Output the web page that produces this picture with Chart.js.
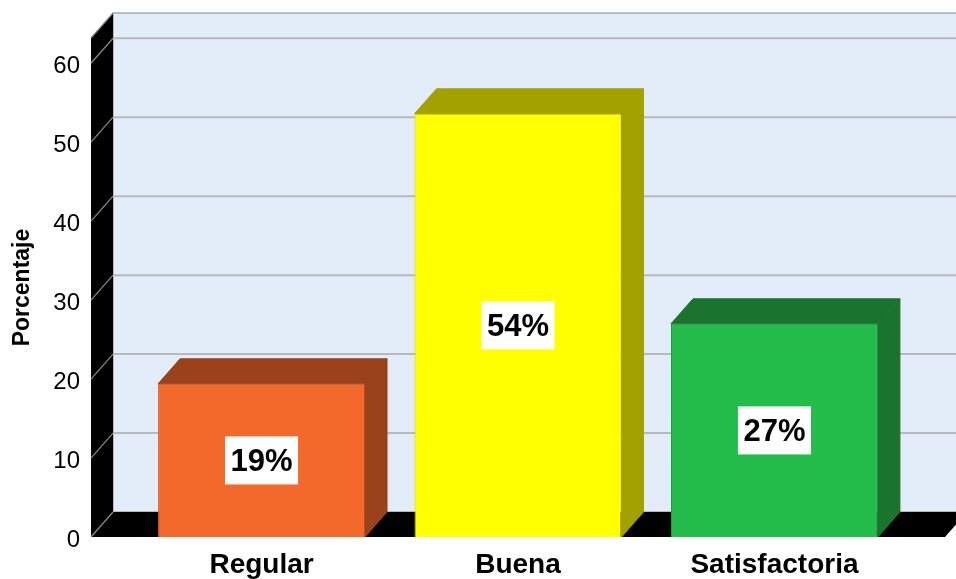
<!DOCTYPE html>
<html>
<head>
<meta charset="utf-8">
<script src="https://cdn.jsdelivr.net/npm/chart.js@4.4.1/dist/chart.umd.min.js"></script>
<style>
  html, body { margin: 0; padding: 0; background: #fff; }
  #wrap { width: 956px; height: 579px; }
</style>
</head>
<body>
<div id="wrap"><canvas id="grafico" width="956" height="579"></canvas></div>
<script>
// datos
const categorias = ["Regular", "Buena", "Satisfactoria"];
const porcentajes = [19.4, 53.6, 27.0];
const etiquetas = ["19%", "54%", "27%"];
const marcasY = [0, 10, 20, 30, 40, 50, 60];

const colorFrente = ["#f3692b", "#ffff00", "#24bc4b"];
const colorBorde = ["#d85d25", "#d9d900", "#1f9e41"];
const colorLado = ["#99421b", "#a3a100", "#1a742e"];

const FUENTE = "Arial, 'Liberation Sans', sans-serif";
const prof = { dx: 22, dy: 25 }; // profundidad 3D

const fondo3d = {
  id: "fondo3d",
  beforeDatasetsDraw(chart) {
    const { ctx, chartArea: a, scales } = chart;
    const y = scales.y;
    const { dx, dy } = prof;
    ctx.save();

    // pared del fondo
    ctx.fillStyle = "#e2edf9";
    ctx.fillRect(a.left + dx, a.top - dy, a.right - a.left, a.bottom - a.top);
    ctx.strokeStyle = "#a9a9a9";
    ctx.lineWidth = 1.5;
    ctx.beginPath();
    ctx.moveTo(a.left + dx, a.bottom - dy);
    ctx.lineTo(a.left + dx, a.top - dy);
    ctx.lineTo(a.right + dx, a.top - dy);
    ctx.stroke();

    // lineas de cuadricula en el fondo
    ctx.strokeStyle = "#b9b9b9";
    ctx.lineWidth = 2;
    marcasY.forEach(v => {
      const py = y.getPixelForValue(v) - dy;
      ctx.beginPath();
      ctx.moveTo(a.left + dx, py);
      ctx.lineTo(a.right + dx, py);
      ctx.stroke();
    });

    // pared izquierda
    ctx.fillStyle = "#000";
    ctx.beginPath();
    ctx.moveTo(a.left, a.top);
    ctx.lineTo(a.left + dx, a.top - dy);
    ctx.lineTo(a.left + dx, a.bottom - dy);
    ctx.lineTo(a.left, a.bottom);
    ctx.closePath();
    ctx.fill();

    // piso
    ctx.beginPath();
    ctx.moveTo(a.left, a.bottom);
    ctx.lineTo(a.left + dx, a.bottom - dy);
    ctx.lineTo(a.right + dx, a.bottom - dy);
    ctx.lineTo(a.right, a.bottom);
    ctx.closePath();
    ctx.fill();

    // diagonales en la pared izquierda
    ctx.strokeStyle = "#8a8a8a";
    ctx.lineWidth = 1.2;
    marcasY.concat([y.max]).forEach(v => {
      const py = y.getPixelForValue(v);
      ctx.beginPath();
      ctx.moveTo(a.left, py);
      ctx.lineTo(a.left + dx, py - dy);
      ctx.stroke();
    });
    ctx.restore();
  },
  afterDatasetsDraw(chart) {
    const { ctx } = chart;
    const { dx, dy } = prof;
    const meta = chart.getDatasetMeta(0);
    ctx.save();
    meta.data.forEach((bar, i) => {
      const p = bar.getProps(["x", "y", "base", "width"], true);
      const L = p.x - p.width / 2, R = p.x + p.width / 2;
      ctx.fillStyle = colorLado[i];
      ctx.strokeStyle = colorLado[i];
      ctx.lineWidth = 1;
      // cara superior
      ctx.beginPath();
      ctx.moveTo(L, p.y);
      ctx.lineTo(L + dx, p.y - dy);
      ctx.lineTo(R + dx, p.y - dy);
      ctx.lineTo(R, p.y);
      ctx.closePath();
      ctx.fill();
      ctx.stroke();
      // cara lateral
      ctx.beginPath();
      ctx.moveTo(R, p.y);
      ctx.lineTo(R + dx, p.y - dy);
      ctx.lineTo(R + dx, p.base - dy);
      ctx.lineTo(R, p.base);
      ctx.closePath();
      ctx.fill();
      ctx.stroke();

      // etiqueta
      ctx.font = "bold 31px " + FUENTE;
      const txt = etiquetas[i];
      const w = ctx.measureText(txt).width + 11;
      const h = 48;
      const cy = (p.y + p.base) / 2;
      ctx.fillStyle = "#fff";
      ctx.fillRect(p.x - w / 2, cy - h / 2, w, h);
      ctx.fillStyle = "#000";
      ctx.textAlign = "center";
      ctx.textBaseline = "middle";
      ctx.fillText(txt, p.x, cy + 2);
    });
    ctx.restore();
  }
};

new Chart(document.getElementById("grafico"), {
  type: "bar",
  data: {
    datasets: [{
      data: categorias.map((c, i) => ({ x: i, y: porcentajes[i] })),
      backgroundColor: colorFrente,
      borderColor: colorBorde,
      borderWidth: 1,
      categoryPercentage: 1,
      barPercentage: 0.807
    }]
  },
  options: {
    responsive: false,
    animation: false,
    devicePixelRatio: 1,
    layout: { padding: { top: 38, right: 11, left: 0, bottom: 0 } },
    plugins: { legend: { display: false }, tooltip: { enabled: false } },
    scales: {
      x: {
        type: "linear",
        offset: false,
        min: -0.665,
        max: 2.665,
        afterBuildTicks: s => { s.ticks = categorias.map((c, i) => ({ value: i })); },
        afterFit: s => { s.height = 42; },
        grid: { display: false },
        border: { display: false },
        ticks: {
          autoSkip: false,
          maxRotation: 0,
          padding: 3,
          color: "#000",
          font: { family: FUENTE, size: 28, weight: "bold" },
          callback: v => categorias[v]
        }
      },
      y: {
        min: 0,
        max: 63.2,
        afterBuildTicks: s => { s.ticks = marcasY.map(v => ({ value: v })); },
        afterFit: s => { s.width = 91; },
        grid: { display: false },
        border: { display: false },
        ticks: {
          padding: 3,
          labelOffset: 3,
          color: "#000",
          font: { family: FUENTE, size: 24 }
        },
        title: {
          display: true,
          text: "Porcentaje",
          color: "#000",
          padding: { top: 9, bottom: 0 },
          font: { family: FUENTE, size: 23, weight: "bold" }
        }
      }
    }
  },
  plugins: [fondo3d]
});
</script>
</body>
</html>
